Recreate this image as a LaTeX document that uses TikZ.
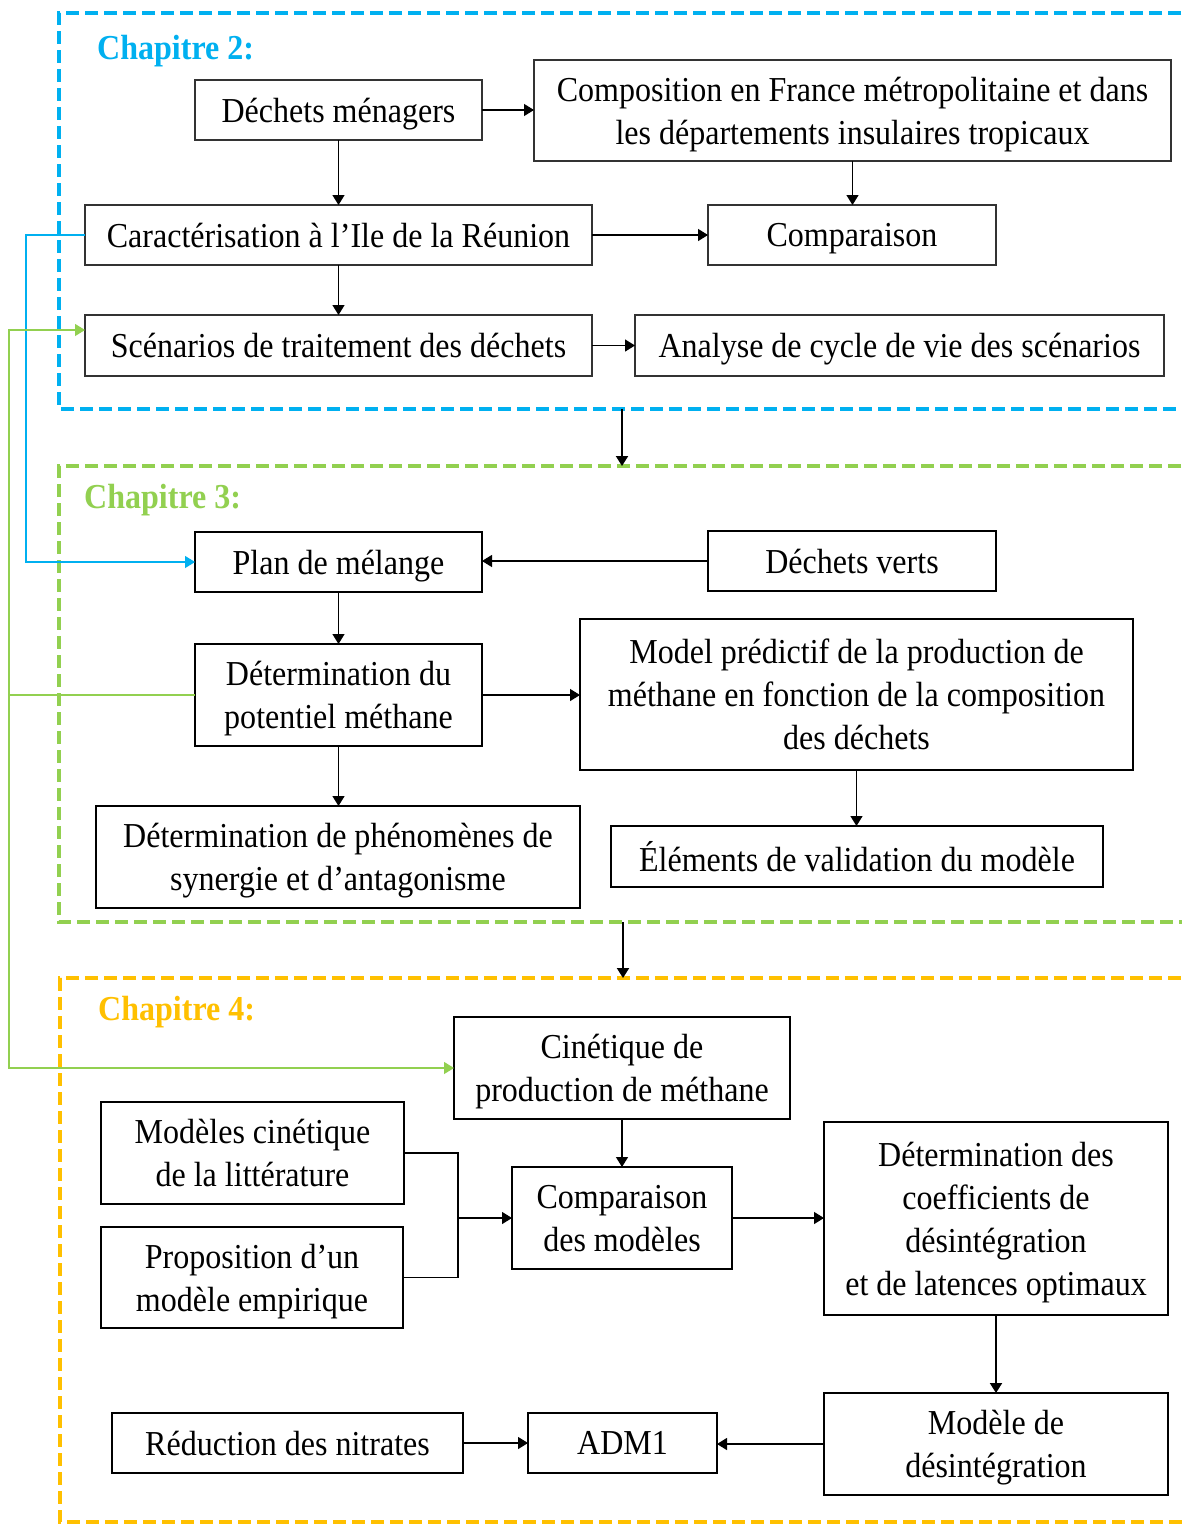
\documentclass[tikz,border=0pt]{standalone}
\usepackage{fontspec}
\setmainfont[FakeStretch=0.915]{Liberation Serif}
\usetikzlibrary{arrows.meta}
\definecolor{cblue}{HTML}{00B0F0}
\definecolor{cgreen}{HTML}{92D050}
\definecolor{corange}{HTML}{FFC000}
\newcommand\myfs{\fontsize{35}{43}\selectfont}
\begin{document}
\begin{tikzpicture}[x=1pt,y=-1pt,
  box/.style={draw=black!80, line width=1.5pt, align=center, inner sep=0pt, outer sep=0pt, text depth=0pt, font=\myfs},
  bbox/.style={box, draw=black, line width=2.6pt},
  arr/.style={line width=1.3pt, -{Triangle[length=10pt,width=12pt]}},
  frame/.style={line width=4pt, dash pattern=on 13pt off 6pt},
  chap/.style={anchor=base west, inner sep=0pt, font=\myfs\bfseries},
  lnk/.style={line width=1.2pt, -{Triangle[length=10pt,width=12pt]}}]
\useasboundingbox (0,0) rectangle (1182,1524);
\clip (0,0) rectangle (1182,1524);
\fill[white] (0,0) rectangle (1182,1524);

% frames
\draw[frame, cblue] (1200,13) -- (59,13) -- (59,409) -- (1200,409);
\draw[frame, cgreen] (1200,466) -- (59,466) -- (59,922) -- (1200,922);
\draw[frame, corange] (1200,978) -- (60,978) -- (60,1522) -- (1200,1522);

\node[chap, text=cblue] (c2) at (97,59) {Chapitre 2:};
\node[chap, text=cgreen] (c3) at (84,508) {Chapitre 3:};
\node[chap, text=corange] (c4) at (98,1020) {Chapitre 4:};

% chapter 2
\node[box, minimum width=287pt, minimum height=60pt] (dm) at (338.5,110) {Déchets ménagers};
\node[box, minimum width=637pt, minimum height=101pt] (comp) at (852.5,110.5) {Composition en France métropolitaine et dans\\les départements insulaires tropicaux};
\node[box, minimum width=507pt, minimum height=60pt] (car) at (338.5,235) {Caractérisation à l’Ile de la Réunion};
\node[box, minimum width=288pt, minimum height=60pt] (cmp) at (852,235) {Comparaison};
\node[box, minimum width=507pt, minimum height=61pt] (scn) at (338.5,345.5) {Scénarios de traitement des déchets};
\node[box, minimum width=529pt, minimum height=61pt] (acv) at (899.5,345.5) {Analyse de cycle de vie des scénarios};

\draw[arr] (dm.east) -- (dm.east -| comp.west);
\draw[arr] (dm.south) -- (car.north);
\draw[arr] (comp.south) -- (comp.south |- cmp.north);
\draw[arr] (car.east) -- (cmp.west);
\draw[arr] (car.south) -- (scn.north);
\draw[arr] (scn.east) -- (acv.west);

\coordinate (f2b) at (622,409);
\coordinate (f3t) at (622,466);
\draw[arr, line width=2pt] (f2b) -- (f3t);

% chapter 3
\node[bbox, minimum width=287pt, minimum height=60pt] (plan) at (338.5,562) {Plan de mélange};
\node[bbox, minimum width=288pt, minimum height=60pt] (dv) at (852,561) {Déchets verts};
\node[bbox, minimum width=287pt, minimum height=102pt] (dpm) at (338.5,695) {Détermination du\\potentiel méthane};
\node[bbox, minimum width=553pt, minimum height=151pt] (mp) at (856.5,694.5) {Model prédictif de la production de\\méthane en fonction de la composition\\des déchets};
\node[bbox, minimum width=484pt, minimum height=102pt] (dph) at (338,857) {Détermination de phénomènes de\\synergie et d’antagonisme};
\node[bbox, minimum width=492pt, minimum height=61pt] (elv) at (857,856.5) {Éléments de validation du modèle};

\draw[arr] (dv.west) -- (dv.west -| plan.east);
\draw[arr] (plan.south) -- (dpm.north);
\draw[arr] (dpm.east) -- (dpm.east -| mp.west);
\draw[arr] (dpm.south) -- (dpm.south |- dph.north);
\draw[arr] (mp.south) -- (mp.south |- elv.north);

\coordinate (f3b) at (623,922);
\coordinate (f4t) at (623,978);
\draw[arr, line width=2pt] (f3b) -- (f4t);

% chapter 4
\node[bbox, minimum width=336pt, minimum height=102pt] (cin) at (622,1068) {Cinétique de\\production de méthane};
\node[bbox, minimum width=303pt, minimum height=102pt] (mcl) at (252.5,1153) {Modèles cinétique\\de la littérature};
\node[bbox, minimum width=302pt, minimum height=101pt] (prop) at (252,1277.5) {Proposition d’un\\modèle empirique};
\node[bbox, minimum width=220pt, minimum height=102pt] (cdm) at (622,1218) {Comparaison\\des modèles};
\node[bbox, minimum width=344pt, minimum height=193pt] (dco) at (996,1218.5) {Détermination des\\coefficients de\\désintégration\\et de latences optimaux};
\node[bbox, minimum width=344pt, minimum height=102pt] (mdes) at (996,1444) {Modèle de\\désintégration};
\node[bbox, minimum width=351pt, minimum height=60pt] (red) at (287.5,1443) {Réduction des nitrates};
\node[bbox, minimum width=189pt, minimum height=60pt] (adm) at (622.5,1443) {ADM1};

\draw[arr] (cin.south) -- (cdm.north);
\coordinate (j) at (458,1218);
\draw[line width=1.3pt] (mcl.east) -| (j);
\draw[line width=1.3pt] (prop.east) -| (j);
\draw[arr] (j) -- (cdm.west);
\draw[arr] (cdm.east) -- (cdm.east -| dco.west);
\draw[arr, line width=2pt] (dco.south) -- (mdes.north);
\draw[arr] (mdes.west) -- (mdes.west -| adm.east);
\draw[arr] (red.east) -- (adm.west);

% feedback links
\draw[lnk, cblue] (car.west) -- ++(-59,0) |- (plan.west);
\coordinate (gx) at (9,695);
\draw[line width=1.2pt, cgreen] (dpm.west) -- (gx);
\draw[lnk, cgreen] (gx) |- ([yshift=15.5pt]scn.west);
\draw[lnk, cgreen] (gx) |- (cin.west);
\end{tikzpicture}
\end{document}
